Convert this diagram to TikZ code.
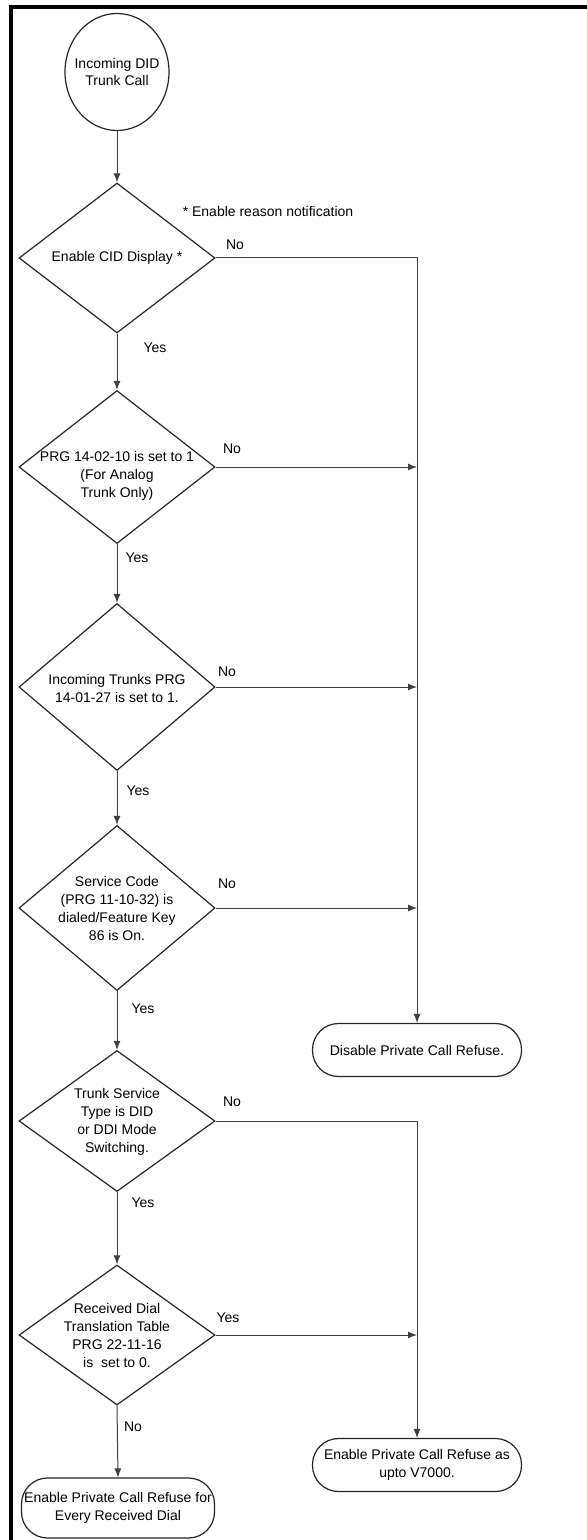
\documentclass[tikz,border=0pt]{standalone}
\usepackage{fontspec}
\setmainfont{Liberation Sans}
\usetikzlibrary{shapes.geometric, arrows.meta, positioning}

\tikzset{
  txt/.style={font=\fontsize{7}{9}\selectfont, align=center, inner sep=0pt},
  decision/.style={diamond, draw=black!85, line width=0.6pt, minimum width=98pt, inner sep=0pt},
  startstop/.style={ellipse, draw=black!85, line width=0.6pt, minimum width=52pt, minimum height=58.5pt, inner sep=0pt},
  result/.style={rectangle, draw=black!85, line width=0.6pt, rounded corners=13pt,
    minimum width=104.5pt, minimum height=26.5pt, inner sep=0pt, txt},
  link/.style={draw=black!75, line width=0.5pt},
  arr/.style={link, -{Latex[length=4.5pt,width=3.5pt]}},
}

\begin{document}
\begin{tikzpicture}[x=0.5pt,y=-0.5pt]
  \useasboundingbox (0,0) rectangle (587,1540);
  \fill[white] (0,0) rectangle (587,1540);
  % frame
  \draw[line width=2pt] (11,1540) -- (11,7) -- (587,7);

  % main column
  \node[startstop] (start) at (117,72) {};
  \node[txt] (starttxt) at (start) {Incoming DID\\Trunk Call};

  \node[decision, minimum height=75pt] (cid) at (117,258) {};
  \node[txt] (cidtxt) at (cid) {Enable CID Display *};
  \node[txt] (note) at (268,211) {* Enable reason notification};

  \node[decision, minimum height=76.5pt] (prga) at (117,467) {};
  \node[txt] (prgatxt) at (117,476) {PRG 14-02-10 is set to 1\\(For Analog\\Trunk Only)};

  \node[decision, minimum height=83.5pt] (trunks) at (117,687) {};
  \node[txt] (trunkstxt) at (117,688) {Incoming Trunks PRG\\14-01-27 is set to 1.};

  \node[decision, minimum height=82.5pt] (svc) at (117,908) {};
  \node[txt] (svctxt) at (svc) {Service Code\\(PRG 11-10-32) is\\dialed/Feature Key\\86 is On.};

  \node[decision, minimum height=70.5pt] (svctype) at (117,1121) {};
  \node[txt] (svctypetxt) at (117,1122) {Trunk Service\\Type is DID\\or DDI Mode\\Switching.};

  \node[decision, minimum height=70pt] (rxdial) at (117,1335) {};
  \node[txt] (rxdialtxt) at (rxdial) {Received Dial\\Translation Table\\PRG 22-11-16\\is\ \ set to 0.};

  % end boxes
  \node[result] (disable) at (417,1050) {Disable Private Call Refuse.};
  \node[result] (enas) at (417,1465) {Enable Private Call Refuse as\\upto V7000.};
  \node[result, minimum width=96.5pt, minimum height=30pt] (enevery) at (118,1508)
    {Enable Private Call Refuse for\\Every Received Dial};

  % yes / no
  \node[txt] (cidno) at (235,245) {No};
  \node[txt] (cidyes) at (155,348) {Yes};
  \node[txt] (prgano) at (232,449) {No};
  \node[txt] (prgayes) at (137,558) {Yes};
  \node[txt] (trunksno) at (227,672) {No};
  \node[txt] (trunksyes) at (138,791) {Yes};
  \node[txt] (svcno) at (227,884) {No};
  \node[txt] (svcyes) at (143,1009) {Yes};
  \node[txt] (svctypeno) at (232,1102) {No};
  \node[txt] (svctypeyes) at (143,1203) {Yes};
  \node[txt] (rxdialyes) at (228,1318) {Yes};
  \node[txt] (rxdialno) at (133,1427) {No};

  % connectors
  \draw[arr] (start.south) -- (cid.north);
  \draw[arr] (cid.south) -- (prga.north);
  \draw[arr] (prga.south) -- (trunks.north);
  \draw[arr] (trunks.south) -- (svc.north);
  \draw[arr] (svc.south) -- (svctype.north);
  \draw[arr] (svctype.south) -- (rxdial.north);
  \draw[arr] (rxdial.south) -- (enevery.north);

  \draw[arr] (cid.east) -| (disable.north);
  \draw[arr] (prga.east) -- (prga.east -| disable.north);
  \draw[arr] (trunks.east) -- (trunks.east -| disable.north);
  \draw[arr] (svc.east) -- (svc.east -| disable.north);

  \draw[arr] (svctype.east) -| (enas.north);
  \draw[arr] (rxdial.east) -- (rxdial.east -| enas.north);
\end{tikzpicture}
\end{document}
